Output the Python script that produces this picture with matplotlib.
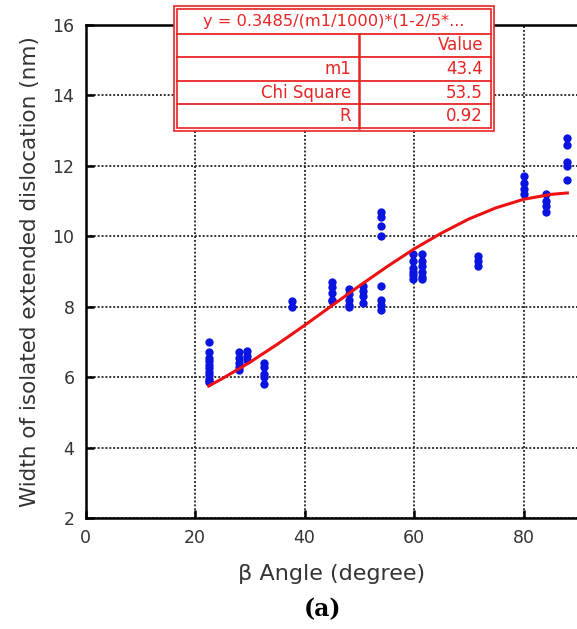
import matplotlib
matplotlib.use("Agg")
import matplotlib.pyplot as plt
from matplotlib.patches import Rectangle
from matplotlib.lines import Line2D

# Measured data points: (beta angle, width)
angle_groups = [22.5, 28.0, 29.5, 32.6, 37.7, 45.0, 48.1, 50.6, 54.0, 54.0, 59.8, 61.4, 71.7, 80.0, 84.1, 88.0]
width_groups = [
    [7.0, 6.7, 6.55, 6.45, 6.35, 6.25, 6.15, 6.05, 5.95, 5.9, 5.85],
    [6.7, 6.55, 6.4, 6.3, 6.2],
    [6.75, 6.6, 6.5],
    [6.4, 6.3, 6.1, 6.0, 5.8],
    [8.15, 8.0],
    [8.7, 8.55, 8.4, 8.2, 8.15],
    [8.5, 8.35, 8.2, 8.05, 8.0],
    [8.6, 8.45, 8.3, 8.1],
    [10.7, 10.55, 10.3, 10.0],
    [8.6, 8.2, 8.05, 7.9],
    [9.5, 9.3, 9.1, 9.0, 8.9, 8.8],
    [9.5, 9.3, 9.15, 9.0, 8.85, 8.8],
    [9.45, 9.3, 9.15],
    [11.7, 11.5, 11.35, 11.2],
    [11.2, 11.0, 10.85, 10.7],
    [12.8, 12.6, 12.1, 12.0, 11.6],
]

# Fitted curve
fit_angle = [22.5, 25, 30, 35, 40, 45, 50, 55, 60, 65, 70, 75, 80, 85, 88]
fit_width = [5.75, 5.96, 6.42, 6.93, 7.47, 8.03, 8.59, 9.13, 9.64, 10.09, 10.49, 10.81, 11.05, 11.19, 11.23]

x_ticks = [0, 20, 40, 60, 80]
y_ticks = [2, 4, 6, 8, 10, 12, 14, 16]

table_title = "y = 0.3485/(m1/1000)*(1-2/5*..."
table_rows = [("", "Value"), ("m1", "43.4"), ("Chi Square", "53.5"), ("R", "0.92")]

W, H = 577, 629
fig = plt.figure(figsize=(W / 100, H / 100), dpi=100)
left, right, top, bottom = 85.5, 578.3, 25, 518
ax = fig.add_axes([left / W, 1 - bottom / H, (right - left) / W, (bottom - top) / H])

xs, ys = [], []
for a, ws in zip(angle_groups, width_groups):
    for w in ws:
        xs.append(a)
        ys.append(w)
ax.scatter(xs, ys, s=36, color="#0a14e0", zorder=3, linewidths=0)
ax.plot(fit_angle, fit_width, color="#ee1111", lw=2.2, zorder=4)

ax.set_xlim(0, 90)
ax.set_ylim(2, 16)
ax.set_xticks(x_ticks)
ax.set_yticks(y_ticks)
ax.grid(True, color="#333333", linestyle=(0, (1, 1)), lw=1.4)
ax.tick_params(direction="in", length=6, width=1.8, labelsize=12.5, labelcolor="#333333", pad=8)
for s in ax.spines.values():
    s.set_linewidth(1.8)
ax.set_ylabel("Width of isolated extended dislocation (nm)", fontsize=15.5, color="#333333", labelpad=9)
ax.set_xlabel("β Angle (degree)", fontsize=16, color="#333333", labelpad=12)

fig.text(322 / W, 1 - 609 / H, "(a)", fontsize=17, fontweight="bold", family="DejaVu Serif",
         ha="center", va="center")

# Table of fit parameters drawn in figure pixel coordinates
red = "#e82525"
def fx(px):
    return px / W
def fy(py):
    return 1 - py / H

tx0, tx1, ty0, ty1 = 174, 494, 6, 131
fig.add_artist(Rectangle((fx(tx0), fy(ty1)), fx(tx1) - fx(tx0), fy(ty0) - fy(ty1),
                         facecolor="#fff4f4", edgecolor=red, lw=1.2, zorder=10))
ix0, ix1, iy0, iy1 = 177, 491, 9, 128
fig.add_artist(Rectangle((fx(ix0), fy(iy1)), fx(ix1) - fx(ix0), fy(iy0) - fy(iy1),
                         facecolor="white", edgecolor=red, lw=1.2, zorder=11))
row_edges = [9, 34, 57, 81, 104, 128]
for yy in row_edges[1:-1]:
    fig.add_artist(Line2D([fx(ix0), fx(ix1)], [fy(yy), fy(yy)], color=red, lw=1.3, zorder=12))
colx = 359
fig.add_artist(Line2D([fx(colx), fx(colx)], [fy(34), fy(128)], color=red, lw=1.8, zorder=12))
fig.text(fx((ix0 + ix1) / 2), fy((row_edges[0] + row_edges[1]) / 2), table_title,
         color=red, fontsize=11.7, ha="center", va="center", zorder=13)
for i, (lab, val) in enumerate(table_rows):
    yc = (row_edges[i + 1] + row_edges[i + 2]) / 2
    fig.text(fx(colx - 8), fy(yc), lab, color=red, fontsize=12, ha="right", va="center", zorder=13)
    fig.text(fx(ix1 - 8), fy(yc), val, color=red, fontsize=12, ha="right", va="center", zorder=13)

fig.savefig("out.png", dpi=100)
